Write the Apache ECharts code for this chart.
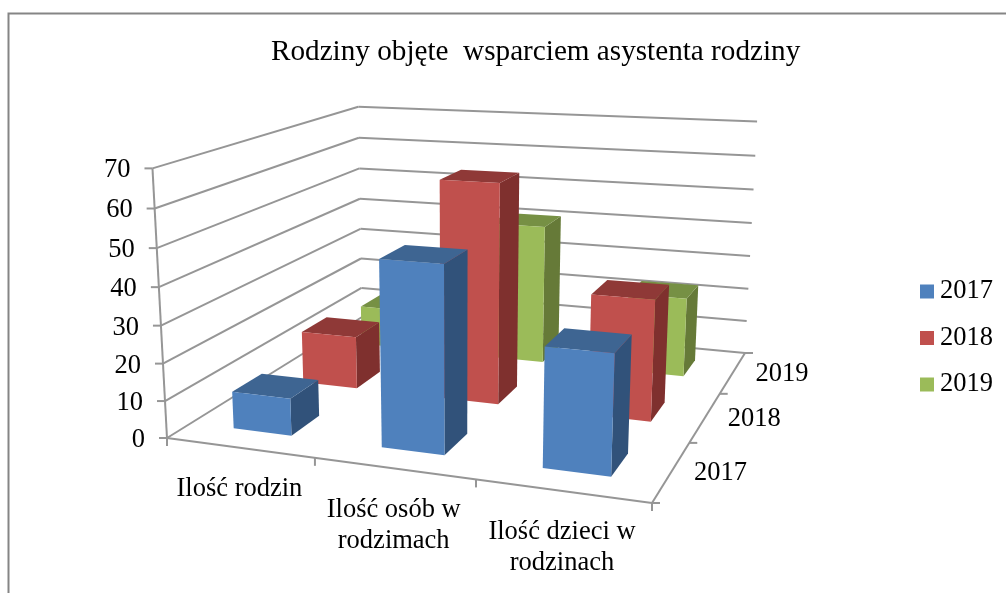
<!DOCTYPE html>
<html><head><meta charset="utf-8">
<style>html,body{margin:0;padding:0;background:#fff}#c{width:1006px;height:593px}</style>
<script src="https://cdn.jsdelivr.net/npm/echarts@6/dist/echarts.min.js"></script>
</head><body><div id="c"></div>
<script>
const categories = ['Ilość rodzin', 'Ilość osób w\nrodzimach', 'Ilość dzieci w\nrodzinach'];
const years = ['2017', '2018', '2019'];
const values2017 = [10, 48.5, 30.5];
const values2018 = [15, 61, 33];
const values2019 = [12, 41, 23];
const yTicks = [0, 10, 20, 30, 40, 50, 60, 70];
const yMax = 70;

const FONT = '"Liberation Serif", serif';
const LINE = '#969696';
const faces = [
  {front: '#4F81BD', side: '#31527A', top: '#3E6592'},
  {front: '#C0504D', side: '#7F302E', top: '#8F3937'},
  {front: '#9BBB59', side: '#667A38', top: '#769044'}
];

function solve(A, b) {
  const n = b.length, M = A.map((r, i) => r.concat(b[i]));
  for (let i = 0; i < n; i++) {
    let p = i;
    for (let k = i + 1; k < n; k++) if (Math.abs(M[k][i]) > Math.abs(M[p][i])) p = k;
    [M[i], M[p]] = [M[p], M[i]];
    for (let k = i + 1; k < n; k++) {
      const f = M[k][i] / M[i][i];
      for (let j = i; j <= n; j++) M[k][j] -= f * M[i][j];
    }
  }
  const x = new Array(n);
  for (let i = n - 1; i >= 0; i--) {
    let s = M[i][n];
    for (let j = i + 1; j < n; j++) s -= M[i][j] * x[j];
    x[i] = s / M[i][i];
  }
  return x;
}
// Camera fitted to the box corners: [u, depth, height fraction] -> screen
const floorAnchors = [[0,0,167,438],[1,0,652,503],[1,1,745,353],[0,1,362,317]];
const wallAnchors = [[0,0,153,170],[0,1,358,104],[1,1,757,123]];
const A8 = [], b8 = [];
floorAnchors.forEach(([u,v,X,Y]) => {
  A8.push([u,v,1,0,0,0,-u*X,-v*X]); b8.push(X);
  A8.push([0,0,0,u,v,1,-u*Y,-v*Y]); b8.push(Y);
});
const h = solve(A8, b8);
const Hm = [[h[0],h[1],h[2]],[h[3],h[4],h[5]],[h[6],h[7],1]];
const rows = [], rhs = [];
wallAnchors.forEach(([u,v,X,Y]) => {
  const hx = Hm[0][0]*u+Hm[0][1]*v+Hm[0][2], hy = Hm[1][0]*u+Hm[1][1]*v+Hm[1][2], hw = Hm[2][0]*u+Hm[2][1]*v+Hm[2][2];
  rows.push([1,0,-X]); rhs.push(X*hw-hx);
  rows.push([0,1,-Y]); rhs.push(Y*hw-hy);
});
const AtA = [0,1,2].map(i => [0,1,2].map(j => rows.reduce((s,r)=>s+r[i]*r[j],0)));
const Atb = [0,1,2].map(i => rows.reduce((s,r,k)=>s+r[i]*rhs[k],0));
const Z = solve(AtA, Atb);
function proj(u, v, z) {
  const w = Hm[2][0]*u+Hm[2][1]*v+Hm[2][2]+Z[2]*z;
  return [(Hm[0][0]*u+Hm[0][1]*v+Hm[0][2]+Z[0]*z)/w, (Hm[1][0]*u+Hm[1][1]*v+Hm[1][2]+Z[1]*z)/w];
}
const line = (a, b, w) => ({type:'line', shape:{x1:a[0],y1:a[1],x2:b[0],y2:b[1]}, style:{stroke:LINE, lineWidth:w||2}});
const label = (t, x, y, align, vAlign) => ({type:'text', x, y, style:{text:t, font:'26.5px '+FONT, fill:'#000', align, verticalAlign:vAlign||'middle', lineHeight:31}});
const poly = (pts, color) => ({type:'polygon', shape:{points:pts}, style:{fill:color}});

// Normalised position on the library's axes
function axisPos(params, api, cat, val) {
  const cs = params.coordSys, p = api.coord([cat, val]);
  return {u:(p[0]-cs.x)/cs.width, z:(cs.y+cs.height-p[1])/cs.height, band:api.size([1,0])[0]/cs.width};
}

function barSeries(idx) {
  const vals = [values2017, values2018, values2019][idx];
  const c = faces[idx];
  const BAR = 0.4, nRows = years.length;
  return {
    name: years[idx], type:'custom', coordinateSystem:'cartesian2d', z: 10-idx,
    itemStyle:{color:c.front},
    encode:{x:0,y:1},
    data: vals.map((v,i)=>[i,v]),
    renderItem(params, api) {
      const a = axisPos(params, api, api.value(0), api.value(1));
      const u0 = a.u-a.band*BAR/2, u1 = a.u+a.band*BAR/2;
      const v0 = (idx+0.5-BAR/2)/nRows, v1 = (idx+0.5+BAR/2)/nRows;
      const P = (u,v,z)=>proj(u,v,z);
      return {type:'group', children:[
        poly([P(u1,v0,0),P(u1,v1,0),P(u1,v1,a.z),P(u1,v0,a.z)], c.side),
        poly([P(u0,v0,a.z),P(u1,v0,a.z),P(u1,v1,a.z),P(u0,v1,a.z)], c.top),
        poly([P(u0,v0,0),P(u1,v0,0),P(u1,v0,a.z),P(u0,v0,a.z)], c.front)
      ]};
    }
  };
}

const option = {
  animation:false,
  backgroundColor:'#fff',
  title:{text:'Rodziny objęte  wsparciem asystenta rodziny', left:266, top:33,
    textStyle:{fontFamily:FONT, fontSize:29.2, fontWeight:'normal', color:'#000'}},
  legend:{orient:'vertical', left:915, top:273, itemWidth:14, itemHeight:14, itemGap:19.5, icon:'rect',
    data:years, selectedMode:false,
    textStyle:{fontFamily:FONT, fontSize:26.5, color:'#000', padding:[0,0,0,1]}},
  grid:{left:167, top:170, width:485, height:268, containLabel:false},
  xAxis:{type:'category', data:categories, show:false},
  yAxis:{type:'value', min:0, max:yMax, interval:10, show:false},
  graphic:[{type:'polyline', silent:true, shape:{points:[[8.5,593],[8.5,13.5],[1006,13.5]]}, style:{stroke:'#858585', fill:null, lineWidth:2}}],
  series:[
    {type:'custom', coordinateSystem:'cartesian2d', z:1, silent:true, data:yTicks.map(t=>[0,t]), encode:{x:0,y:1},
     renderItem(params, api){
       const t = api.value(1), a = axisPos(params, api, 0, t);
       const l = proj(0,0,a.z), m = proj(0,1,a.z), r = proj(1,1,a.z);
       const kids = [line(l,m), line(m,r), line([l[0]-8,l[1]],l), label(String(t), l[0]-22, l[1]+2, 'right')];
       if (t===0) {
         const fr = proj(1,0,0);
         kids.push(line(l,fr), line(fr,r));
       }
       return {type:'group', children:kids};
     }},
    {type:'custom', coordinateSystem:'cartesian2d', z:1, silent:true, data:[0], encode:{x:0},
     renderItem(){
       const b = proj(0,0,0), t = proj(0,0,1), fr = proj(1,0,0), br = proj(1,1,0);
       return {type:'group', children:[line(b,t), line(b,[b[0],b[1]+8]),
         line(fr,[fr[0],fr[1]+8]), line(fr,[fr[0]+8,fr[1]]), line(br,[br[0]+8,br[1]])]};
     }},
    {type:'custom', coordinateSystem:'cartesian2d', z:1, silent:true, data:categories.map((c,i)=>[i,0]), encode:{x:0,y:1},
     renderItem(params, api){
       const i = api.value(0), a = axisPos(params, api, i, 0);
       const edge = proj(a.u+a.band/2,0,0), c = proj(a.u,0,0);
       const kids = [label(categories[i], c[0], c[1]+26, 'center', 'top')];
       if (i<categories.length-1) kids.push(line(edge,[edge[0],edge[1]+8]));
       return {type:'group', children:kids};
     }},
    {type:'custom', coordinateSystem:'cartesian2d', z:1, silent:true, data:years.map((y,i)=>[0,i]), encode:{x:0,y:1},
     renderItem(params, api){
       const i = api.value(1), n = years.length;
       const c = proj(1,(i+0.5)/n,0), e = proj(1,(i+1)/n,0);
       const kids = [label(years[i], c[0]+22.5, c[1]+2, 'left')];
       if (i<n-1) kids.push(line(e,[e[0]+8,e[1]]));
       return {type:'group', children:kids};
     }},
    barSeries(2), barSeries(1), barSeries(0)
  ]
};
echarts.init(document.getElementById('c'), null, {renderer:'canvas'}).setOption(option);
</script></body></html>
